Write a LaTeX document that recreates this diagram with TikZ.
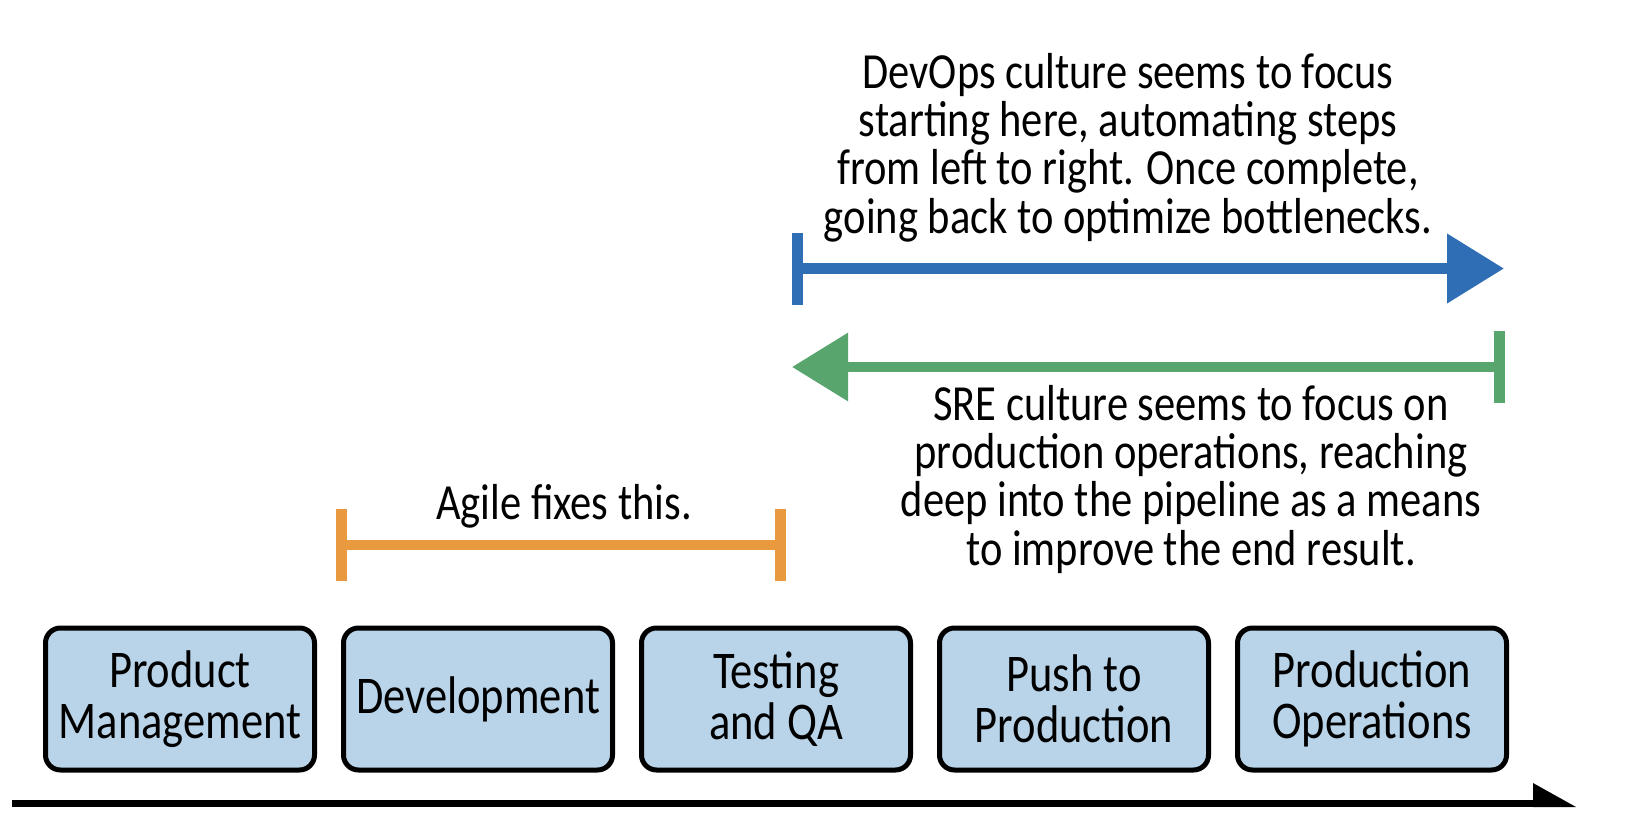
\documentclass[tikz,border=0pt]{standalone}
\usepackage{fontspec}
\setmainfont{Carlito}[FakeStretch=0.84]
\usetikzlibrary{arrows.meta}
\definecolor{boxfill}{RGB}{185,212,232}
\definecolor{devblue}{RGB}{47,110,181}
\definecolor{sregreen}{RGB}{88,165,110}
\definecolor{agileorange}{RGB}{233,154,63}
\tikzset{
  stage/.style={draw=black, line width=5pt, fill=boxfill, rounded corners=15pt,
    minimum width=269pt, minimum height=142pt, align=center, inner sep=0pt,
    font=\fontsize{53}{50.7}\selectfont},
  caption/.style={align=center, inner sep=0pt, font=\fontsize{50.6}{48.3}\selectfont},
  barline/.style={line width=11pt},
}
\begin{document}
\begin{tikzpicture}[x=1pt,y=-1pt]
\useasboundingbox (0,0) rectangle (1636,838);
% stages
\node[stage] (pm) at (180,699) {Product\\Management};
\node[stage] (dev) at (478,699) {Development};
\node[stage] (qa) at (776,699) {Testing\\and QA};
\node[stage] (push) at (1074,699) {Push to\\Production};
\node[stage] (ops) at (1372,699) {Production\\Operations};
% time axis
\coordinate (axS) at (12,803.5);
\coordinate (axE) at (1533,803.5);
\coordinate (axT) at (1576,807);
\draw[line width=7pt] (axS) -- (axE);
\fill (1533,783) -- (axT) -- (1533,807) -- cycle;
% agile bracket
\coordinate (agL) at (341.5,545);
\coordinate (agR) at (780.5,545);
\draw[agileorange, line width=10pt] (agL) -- (agR);
\draw[agileorange, barline] (341.5,509) -- (341.5,581);
\draw[agileorange, barline] (780.5,509) -- (780.5,581);
\node[caption, anchor=base] (agile) at (564,519) {Agile fixes this.};
% devops arrow
\coordinate (dvS) at (797,268.5);
\coordinate (dvE) at (1504,268.5);
\draw[devblue, line width=11pt, -{Triangle[length=57pt 0, width=67pt 0]}] (dvS) -- (dvE);
\draw[devblue, barline] (797,233) -- (797,305);
\node[caption, anchor=base] (devops) at (1128,233)
  {DevOps culture seems to focus\\starting here, automating steps\\from left to right. Once complete,\\going back to optimize bottlenecks.};
% sre arrow
\coordinate (srS) at (1499,367);
\coordinate (srE) at (792,367);
\draw[sregreen, line width=10pt, -{Triangle[length=56pt 0, width=66pt 0]}] (srS) -- (srE);
\draw[sregreen, barline] (1499,331) -- (1499,403);
\node[caption, anchor=base] (sre) at (1191,565)
  {SRE culture seems to focus on\\production operations, reaching\\deep into the pipeline as a means\\to improve the end result.};
\end{tikzpicture}
\end{document}
